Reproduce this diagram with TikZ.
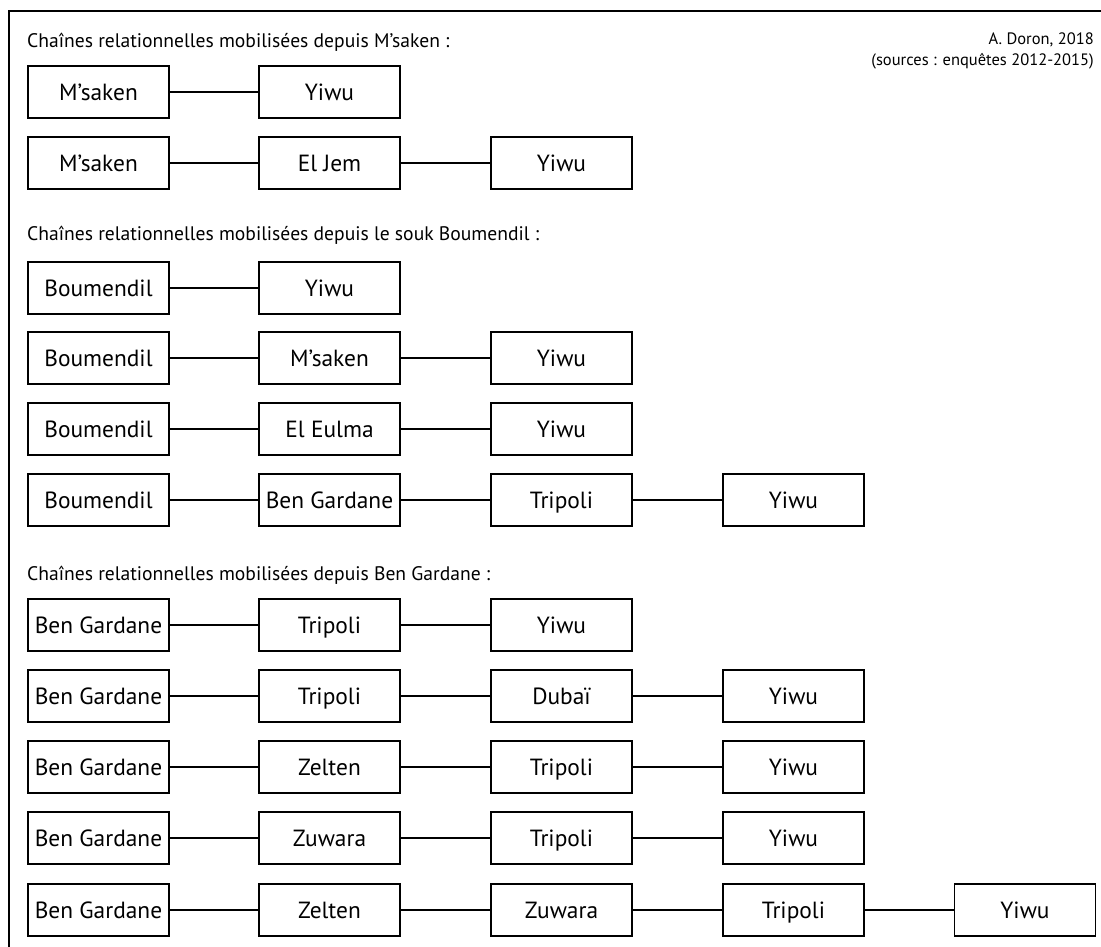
\documentclass[tikz,border=0pt]{standalone}
\usepackage{fontspec}
\setmainfont{PT Sans}
\usetikzlibrary{positioning}
\tikzset{
  place/.style={rectangle, draw=black, line width=1.8pt, fill=white, minimum width=141pt, minimum height=52pt, inner sep=0pt, text height=20pt, text depth=3pt, align=center, font=\fontsize{23.4}{26}\selectfont},
  heading/.style={anchor=west, inner sep=0pt, font=\fontsize{19.6}{23}\selectfont},
  link/.style={line width=2pt},
}
\begin{document}
\begin{tikzpicture}[x=1pt, y=-1pt]
\useasboundingbox (0,0) rectangle (1101,947);

% frame
\draw[line width=1.3pt] (9,947) -- (9,11) -- (1101,11);

% credit
\node[anchor=north east, inner sep=0pt, align=right, font=\fontsize{16.5}{21}\selectfont] (credit) at (1094,33) {A. Doron, 2018\\(sources : enquêtes 2012-2015)};

% depuis M'saken
\node[heading] (hdrA) at (27,42) {Chaînes relationnelles mobilisées depuis M’saken :};
\node[place] (a1) at (98.5,92) {M’saken};
\node[place] (a2) at (329.5,92) {Yiwu};
\node[place] (b1) at (98.5,163) {M’saken};
\node[place] (b2) at (329.5,163) {El Jem};
\node[place] (b3) at (561.5,163) {Yiwu};

% depuis le souk Boumendil
\node[heading] (hdrB) at (27,235) {Chaînes relationnelles mobilisées depuis le souk Boumendil :};
\node[place] (c1) at (98.5,288) {Boumendil};
\node[place] (c2) at (329.5,288) {Yiwu};
\node[place] (d1) at (98.5,358) {Boumendil};
\node[place] (d2) at (329.5,358) {M’saken};
\node[place] (d3) at (561.5,358) {Yiwu};
\node[place] (e1) at (98.5,429) {Boumendil};
\node[place] (e2) at (329.5,429) {El Eulma};
\node[place] (e3) at (561.5,429) {Yiwu};
\node[place] (f1) at (98.5,500) {Boumendil};
\node[place] (f2) at (329.5,500) {Ben Gardane};
\node[place] (f3) at (561.5,500) {Tripoli};
\node[place] (f4) at (793.5,500) {Yiwu};

% depuis Ben Gardane
\node[heading] (hdrC) at (27,575) {Chaînes relationnelles mobilisées depuis Ben Gardane :};
\node[place] (g1) at (98.5,625) {Ben Gardane};
\node[place] (g2) at (329.5,625) {Tripoli};
\node[place] (g3) at (561.5,625) {Yiwu};
\node[place] (h1) at (98.5,696) {Ben Gardane};
\node[place] (h2) at (329.5,696) {Tripoli};
\node[place] (h3) at (561.5,696) {Dubaï};
\node[place] (h4) at (793.5,696) {Yiwu};
\node[place] (i1) at (98.5,767) {Ben Gardane};
\node[place] (i2) at (329.5,767) {Zelten};
\node[place] (i3) at (561.5,767) {Tripoli};
\node[place] (i4) at (793.5,767) {Yiwu};
\node[place] (j1) at (98.5,838) {Ben Gardane};
\node[place] (j2) at (329.5,838) {Zuwara};
\node[place] (j3) at (561.5,838) {Tripoli};
\node[place] (j4) at (793.5,838) {Yiwu};
\node[place] (k1) at (98.5,910) {Ben Gardane};
\node[place] (k2) at (329.5,910) {Zelten};
\node[place] (k3) at (561.5,910) {Zuwara};
\node[place] (k4) at (793.5,910) {Tripoli};
\node[place] (k5) at (1025,910) {Yiwu};

% chains
\draw[link] (a1) -- (a2);
\draw[link] (b1) -- (b2); \draw[link] (b2) -- (b3);
\draw[link] (c1) -- (c2);
\draw[link] (d1) -- (d2); \draw[link] (d2) -- (d3);
\draw[link] (e1) -- (e2); \draw[link] (e2) -- (e3);
\draw[link] (f1) -- (f2); \draw[link] (f2) -- (f3); \draw[link] (f3) -- (f4);
\draw[link] (g1) -- (g2); \draw[link] (g2) -- (g3);
\draw[link] (h1) -- (h2); \draw[link] (h2) -- (h3); \draw[link] (h3) -- (h4);
\draw[link] (i1) -- (i2); \draw[link] (i2) -- (i3); \draw[link] (i3) -- (i4);
\draw[link] (j1) -- (j2); \draw[link] (j2) -- (j3); \draw[link] (j3) -- (j4);
\draw[link] (k1) -- (k2); \draw[link] (k2) -- (k3); \draw[link] (k3) -- (k4); \draw[link] (k4) -- (k5);
\end{tikzpicture}
\end{document}
